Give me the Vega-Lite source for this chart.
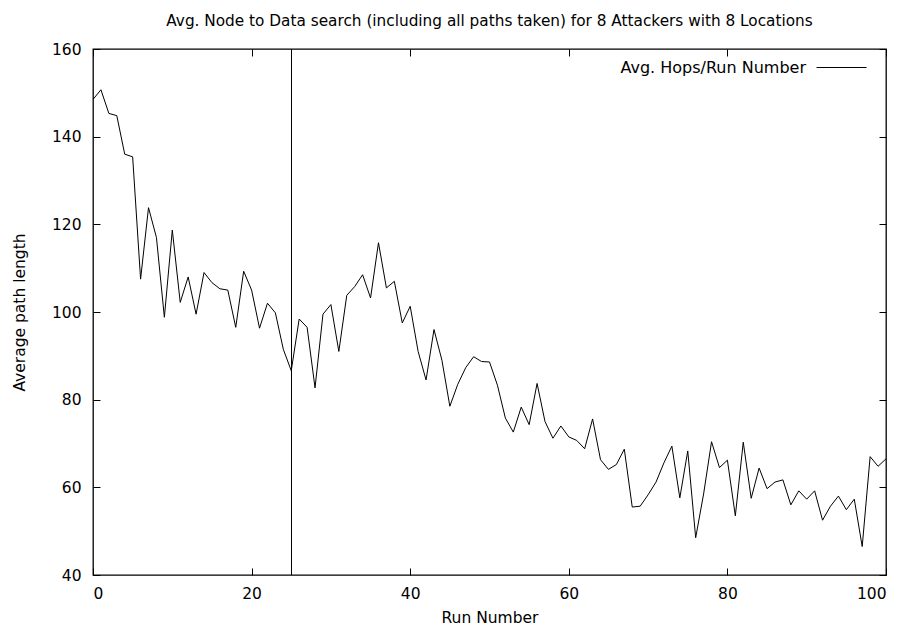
{
  "$schema": "https://vega.github.io/schema/vega-lite/v6.json",
  "autosize": "none",
  "width": 793,
  "height": 526,
  "padding": {"left": 93, "top": 49, "right": 20, "bottom": 51},
  "background": "white",
  "title": {"text": "Avg. Node to Data search (including all paths taken) for 8 Attackers with 8 Locations", "font": "DejaVu Sans", "fontSize": 15.3, "fontWeight": "normal", "color": "black", "offset": 13, "anchor": "middle"},
  "config": {
    "view": {"stroke": "black", "strokeWidth": 1.3},
    "font": "DejaVu Sans",
    "axis": {"grid": false, "domain": false, "tickColor": "black", "tickSize": -7, "labelColor": "black", "labelFont": "DejaVu Sans", "labelFontSize": 15.5, "titleFont": "DejaVu Sans", "titleFontSize": 15.5, "titleFontWeight": "normal", "titleColor": "black"}
  },
  "data": {"values": [
    {"run": 0, "hops": 148.5}, {"run": 1, "hops": 150.7}, {"run": 2, "hops": 145.3}, {"run": 3, "hops": 144.8}, {"run": 4, "hops": 136.0},
    {"run": 5, "hops": 135.4}, {"run": 6, "hops": 107.5}, {"run": 7, "hops": 123.8}, {"run": 8, "hops": 117.0}, {"run": 9, "hops": 98.8},
    {"run": 10, "hops": 118.7}, {"run": 11, "hops": 102.2}, {"run": 12, "hops": 108.0}, {"run": 13, "hops": 99.5}, {"run": 14, "hops": 109.0},
    {"run": 15, "hops": 106.7}, {"run": 16, "hops": 105.3}, {"run": 17, "hops": 105.0}, {"run": 18, "hops": 96.5}, {"run": 19, "hops": 109.3},
    {"run": 20, "hops": 105.0}, {"run": 21, "hops": 96.3}, {"run": 22, "hops": 102.0}, {"run": 23, "hops": 99.8}, {"run": 24, "hops": 91.5},
    {"run": 25, "hops": 86.6}, {"run": 26, "hops": 98.4}, {"run": 27, "hops": 96.5}, {"run": 28, "hops": 82.7}, {"run": 29, "hops": 99.5},
    {"run": 30, "hops": 101.7}, {"run": 31, "hops": 91.0}, {"run": 32, "hops": 103.8}, {"run": 33, "hops": 105.8}, {"run": 34, "hops": 108.5},
    {"run": 35, "hops": 103.2}, {"run": 36, "hops": 115.8}, {"run": 37, "hops": 105.5}, {"run": 38, "hops": 107.0}, {"run": 39, "hops": 97.5},
    {"run": 40, "hops": 101.3}, {"run": 41, "hops": 91.0}, {"run": 42, "hops": 84.5}, {"run": 43, "hops": 96.0}, {"run": 44, "hops": 89.0},
    {"run": 45, "hops": 78.5}, {"run": 46, "hops": 83.5}, {"run": 47, "hops": 87.3}, {"run": 48, "hops": 89.8}, {"run": 49, "hops": 88.7},
    {"run": 50, "hops": 88.6}, {"run": 51, "hops": 83.3}, {"run": 52, "hops": 75.8}, {"run": 53, "hops": 72.6}, {"run": 54, "hops": 78.3},
    {"run": 55, "hops": 74.3}, {"run": 56, "hops": 83.7}, {"run": 57, "hops": 75.0}, {"run": 58, "hops": 71.2}, {"run": 59, "hops": 74.0},
    {"run": 60, "hops": 71.5}, {"run": 61, "hops": 70.7}, {"run": 62, "hops": 68.8}, {"run": 63, "hops": 75.6}, {"run": 64, "hops": 66.3},
    {"run": 65, "hops": 64.1}, {"run": 66, "hops": 65.2}, {"run": 67, "hops": 68.7}, {"run": 68, "hops": 55.5}, {"run": 69, "hops": 55.7},
    {"run": 70, "hops": 58.3}, {"run": 71, "hops": 61.2}, {"run": 72, "hops": 65.6}, {"run": 73, "hops": 69.4}, {"run": 74, "hops": 57.6},
    {"run": 75, "hops": 68.3}, {"run": 76, "hops": 48.5}, {"run": 77, "hops": 58.5}, {"run": 78, "hops": 70.4}, {"run": 79, "hops": 64.5},
    {"run": 80, "hops": 66.2}, {"run": 81, "hops": 53.5}, {"run": 82, "hops": 70.3}, {"run": 83, "hops": 57.5}, {"run": 84, "hops": 64.4},
    {"run": 85, "hops": 59.7}, {"run": 86, "hops": 61.2}, {"run": 87, "hops": 61.7}, {"run": 88, "hops": 56.0}, {"run": 89, "hops": 59.2},
    {"run": 90, "hops": 57.3}, {"run": 91, "hops": 59.2}, {"run": 92, "hops": 52.5}, {"run": 93, "hops": 55.7}, {"run": 94, "hops": 58.0},
    {"run": 95, "hops": 54.9}, {"run": 96, "hops": 57.3}, {"run": 97, "hops": 46.5}, {"run": 98, "hops": 67.0}, {"run": 99, "hops": 64.8},
    {"run": 100, "hops": 66.5}
  ]},
  "layer": [
    {
      "mark": {"type": "line", "strokeWidth": 1, "clip": true},
      "encoding": {
        "x": {"field": "run", "type": "quantitative", "scale": {"domain": [0, 100], "nice": false, "zero": false}, "axis": {"orient": "bottom", "values": [0, 20, 40, 60, 80, 100], "title": "Run Number", "labelPadding": 18, "titlePadding": 9}},
        "y": {"field": "hops", "type": "quantitative", "scale": {"domain": [40, 160], "nice": false, "zero": false}, "axis": {"orient": "left", "values": [40, 60, 80, 100, 120, 140, 160], "title": "Average path length", "labelPadding": 19, "titlePadding": 24}},
        "stroke": {"datum": "Avg. Hops/Run Number", "type": "nominal", "scale": {"range": ["black"]}, "legend": {"title": null, "orient": "none", "legendX": 723, "legendY": -7, "symbolType": "stroke", "symbolSize": 2500, "symbolStrokeWidth": 1, "labelFontSize": 16, "labelFont": "DejaVu Sans", "labelColor": "black", "labelAlign": "right", "labelOffset": -61, "labelLimit": 400}}
      }
    },
    {
      "mark": {"type": "rule", "color": "black", "strokeWidth": 1, "xOffset": 0.25},
      "encoding": {"x": {"datum": 25, "type": "quantitative", "axis": null}}
    },
    {
      "mark": {"type": "line", "opacity": 0},
      "encoding": {
        "x": {"field": "run", "type": "quantitative", "axis": {"orient": "top", "values": [0, 20, 40, 60, 80, 100], "labels": false, "title": null}},
        "y": {"field": "hops", "type": "quantitative", "axis": {"orient": "right", "values": [40, 60, 80, 100, 120, 140, 160], "labels": false, "title": null}}
      }
    }
  ],
  "resolve": {"axis": {"x": "independent", "y": "independent"}}
}
